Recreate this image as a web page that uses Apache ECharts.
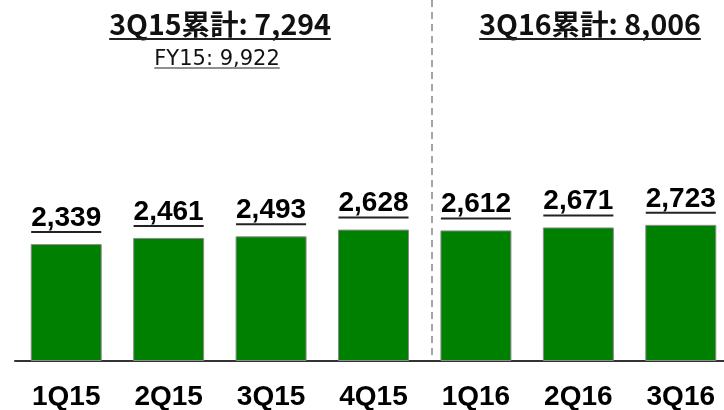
<!DOCTYPE html>
<html>
<head>
<meta charset="utf-8">
<script src="https://cdn.jsdelivr.net/npm/echarts@6/dist/echarts.min.js"></script>
<style>
  html, body { margin: 0; padding: 0; background: #fff; }
  #chart { width: 724px; height: 410px; }
</style>
</head>
<body>
<div id="chart"></div>
<script>
// Quarterly figures
const categories = ['1Q15', '2Q15', '3Q15', '4Q15', '1Q16', '2Q16', '3Q16'];
const quarterValues = [2339, 2461, 2493, 2628, 2612, 2671, 2723];
const periodTitles = ['3Q15累計: 7,294', '3Q16累計: 8,006'];
const fyNote = 'FY15: 9,922';

const LABEL_FAMILY = '"Liberation Sans", Arial, sans-serif';
const CJK_FAMILY = '"Noto Sans CJK JP", "Noto Sans", sans-serif';
const NOTE_FAMILY = '"DejaVu Sans", "Noto Sans", sans-serif';

const measureCtx = document.createElement('canvas').getContext('2d');
function textWidth(text, weight, size, family) {
  measureCtx.font = weight + ' ' + size + 'px ' + family;
  return measureCtx.measureText(text).width;
}
function fmt(v) {
  return v.toLocaleString('en-US');
}

const chart = echarts.init(document.getElementById('chart'));

// Underlined title text drawn as graphic elements
function underlinedText(text, family, weight, size, cx, bottomY, lineY, lineH) {
  const w = textWidth(text, weight, size, family);
  return [
    {
      type: 'text', x: cx, y: bottomY,
      style: {
        text: text, fontFamily: family, fontWeight: weight, fontSize: size,
        fill: '#111', align: 'center', verticalAlign: 'bottom'
      }
    },
    {
      type: 'rect', shape: { x: cx - w / 2, y: lineY, width: w, height: lineH },
      style: { fill: '#222' }
    }
  ];
}

const graphics = [].concat(
  underlinedText(periodTitles[0], CJK_FAMILY, 'bold', 28.5, 220, 38.5, 38, 2),
  underlinedText(fyNote, NOTE_FAMILY, 'normal', 21, 217, 70, 67.5, 1),
  underlinedText(periodTitles[1], CJK_FAMILY, 'bold', 28.5, 590, 38.5, 38, 2),
  [{
    type: 'line',
    shape: { x1: 432, y1: 0, x2: 432, y2: 361 },
    style: { stroke: '#888', lineWidth: 1.5, lineDash: [7, 5] }
  }]
);

chart.setOption({
  animation: false,
  grid: { left: 15, top: 0, width: 717, height: 361, outerBoundsMode: 'none' },
  xAxis: {
    type: 'category',
    data: categories,
    axisLine: { show: true, lineStyle: { color: '#333', width: 2 } },
    axisTick: { show: false },
    axisLabel: {
      margin: 22,
      color: '#000',
      fontFamily: LABEL_FAMILY,
      fontWeight: 'bold',
      fontSize: 28
    }
  },
  yAxis: {
    type: 'value', min: 0, max: 7220, show: false,
    splitLine: { show: false }
  },
  series: [
    {
      type: 'bar',
      data: quarterValues,
      barWidth: 71,
      itemStyle: { color: '#008000', borderColor: '#8c8c8c', borderWidth: 1 },
      z: 2
    },
    {
      // value labels with underline above each bar
      type: 'custom',
      data: quarterValues.map((v, i) => [i, v]),
      renderItem: function (params, api) {
        const v = api.value(1);
        const pt = api.coord([api.value(0), v]);
        const txt = fmt(v);
        const w = textWidth(txt, 'bold', 28, LABEL_FAMILY);
        return {
          type: 'group',
          children: [
            {
              type: 'text', x: pt[0], y: pt[1] - 12,
              style: {
                text: txt, fontFamily: LABEL_FAMILY, fontWeight: 'bold', fontSize: 28,
                fill: '#000', align: 'center', verticalAlign: 'bottom'
              }
            },
            {
              type: 'rect',
              shape: { x: pt[0] - w / 2, y: pt[1] - 13, width: w, height: 2 },
              style: { fill: '#222' }
            }
          ]
        };
      },
      z: 3
    }
  ],
  graphic: graphics
});
</script>
</body>
</html>
